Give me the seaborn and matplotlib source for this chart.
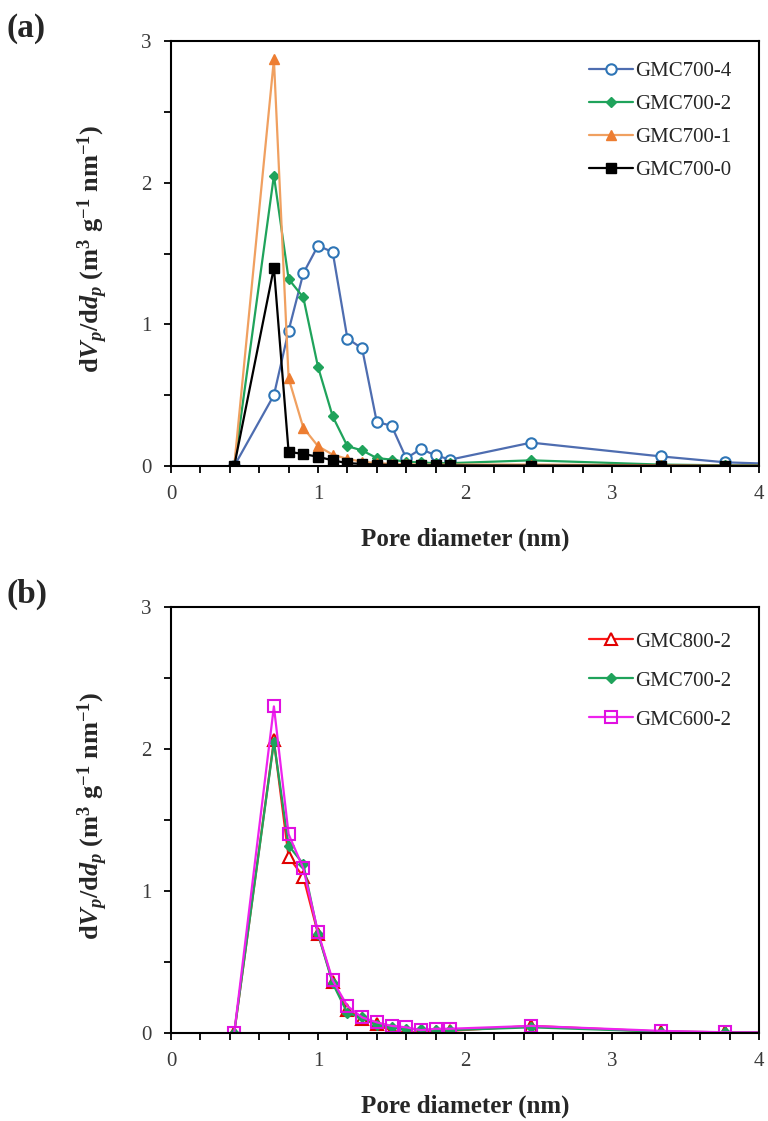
import matplotlib
matplotlib.use("Agg")
import matplotlib.pyplot as plt
from matplotlib.ticker import MultipleLocator
import seaborn as sns
import pandas as pd

# Pore diameters (nm) at which the distribution was evaluated
pore_diameter = [0.43, 0.7, 0.8, 0.9, 1.0, 1.1, 1.2, 1.3, 1.4, 1.5, 1.6, 1.7, 1.8, 1.9, 2.45, 3.33, 3.77, 4.4]

# Panel (a): activation ratio series at 700 °C
gmc700_4 = [0.0, 0.50, 0.955, 1.36, 1.555, 1.51, 0.90, 0.83, 0.31, 0.285, 0.055, 0.12, 0.075, 0.045, 0.165, 0.068, 0.026, 0.005]
gmc700_2 = [0.0, 2.05, 1.32, 1.19, 0.70, 0.35, 0.14, 0.11, 0.056, 0.045, 0.03, 0.025, 0.02, 0.02, 0.04, 0.01, 0.005, 0.003]
gmc700_1 = [0.0, 2.87, 0.62, 0.27, 0.14, 0.08, 0.05, 0.03, 0.02, 0.015, 0.012, 0.01, 0.01, 0.01, 0.01, 0.005, 0.003, 0.002]
gmc700_0 = [0.0, 1.40, 0.10, 0.085, 0.065, 0.04, 0.02, 0.015, 0.01, 0.008, 0.006, 0.005, 0.005, 0.004, 0.003, 0.002, 0.001, 0.001]

# Panel (b): carbonisation temperature series
gmc800_2 = [0.0, 2.06, 1.24, 1.10, 0.70, 0.36, 0.16, 0.10, 0.06, 0.015, 0.005, 0.005, 0.01, 0.015, 0.05, 0.01, 0.005, 0.003]
gmc600_2 = [0.0, 2.30, 1.40, 1.16, 0.71, 0.37, 0.19, 0.11, 0.075, 0.05, 0.04, 0.02, 0.03, 0.03, 0.05, 0.015, 0.005, 0.003]

x_ticks = [0, 1, 2, 3, 4]
y_ticks = [0, 1, 2, 3]

sns.set_theme(style="ticks")
plt.rcParams["font.family"] = ["Liberation Serif", "DejaVu Serif"]
plt.rcParams["mathtext.fontset"] = "custom"
plt.rcParams["mathtext.rm"] = "Liberation Serif:bold"
plt.rcParams["mathtext.bf"] = "Liberation Serif:bold"
plt.rcParams["mathtext.it"] = "Liberation Serif:italic:bold"

W, H = 768, 1121
fig = plt.figure(figsize=(W / 100, H / 100), dpi=100)


def px_axes(left, top, right, bottom):
    return fig.add_axes([left / W, 1 - bottom / H, (right - left) / W, (bottom - top) / H])


ax_a = px_axes(171, 41, 759, 466)
ax_b = px_axes(171, 607, 759, 1033)

series_a = [
    ("GMC700-4", gmc700_4, dict(color="#4E6DB0", marker="o", ms=7.5, mfc="white", mec="#2E75B6", mew=1.5)),
    ("GMC700-2", gmc700_2, dict(color="#1FA35B", marker="D", ms=5.5, mfc="#1FA35B", mec="#1FA35B", mew=1.0)),
    ("GMC700-1", gmc700_1, dict(color="#F0A060", marker="^", ms=7.5, mfc="#ED7D31", mec="#ED7D31", mew=1.0)),
    ("GMC700-0", gmc700_0, dict(color="#000000", marker="s", ms=7.5, mfc="#000000", mec="#000000", mew=1.0)),
]

series_b = [
    ("GMC800-2", gmc800_2, dict(color="#FF1A1A", marker="^", ms=8, mfc="white", mec="#E00000", mew=1.5)),
    ("GMC700-2", gmc700_2, dict(color="#1FA35B", marker="D", ms=5.5, mfc="#1FA35B", mec="#1FA35B", mew=1.0)),
    ("GMC600-2", gmc600_2, dict(color="#EE22EE", marker="s", ms=8, mfc="none", mec="#E010E0", mew=1.5)),
]


def draw_panel(ax, series, tag, leg_top, leg_spacing):
    for label, values, style in series:
        df = pd.DataFrame({"d": pore_diameter, "v": values})
        sns.lineplot(data=df, x="d", y="v", ax=ax, label=label, sort=False,
                     estimator=None, lw=1.6, clip_on=True, **style)
    ax.set_xlim(0, 4)
    ax.set_ylim(0, 3)
    ax.set_xticks(x_ticks)
    ax.set_yticks(y_ticks)
    ax.xaxis.set_minor_locator(MultipleLocator(0.2))
    ax.yaxis.set_minor_locator(MultipleLocator(0.5))
    ax.tick_params(which="both", direction="out", length=5, width=1.3, color="black",
                   labelsize=15, labelcolor="#3A3A3A", pad=9)
    for side in ax.spines.values():
        side.set_visible(True)
        side.set_linewidth(1.5)
        side.set_color("black")
    ax.set_xlabel("Pore diameter (nm)", fontsize=18, fontweight="bold")
    ax.xaxis.set_label_coords(0.5, -0.145)
    ax.set_ylabel(r"d$V_p$/d$d_p$ (m$^{3}$ g$^{-1}$ nm$^{-1}$)", fontsize=19,
                  fontweight="bold")
    ax.yaxis.set_label_coords(-0.103, 0.51)
    ax.legend(loc="upper right", bbox_to_anchor=(0.985, leg_top), frameon=False,
              fontsize=15, handlelength=2.1, handletextpad=0.1, labelspacing=leg_spacing)
    ax.text(-0.28, 1.03, tag, transform=ax.transAxes, fontsize=24, fontweight="bold",
            ha="left", va="center")


draw_panel(ax_a, series_a, "(a)", 0.995, 0.64)
draw_panel(ax_b, series_b, "(b)", 0.985, 0.93)

fig.savefig("out.png", dpi=100, facecolor="white")
